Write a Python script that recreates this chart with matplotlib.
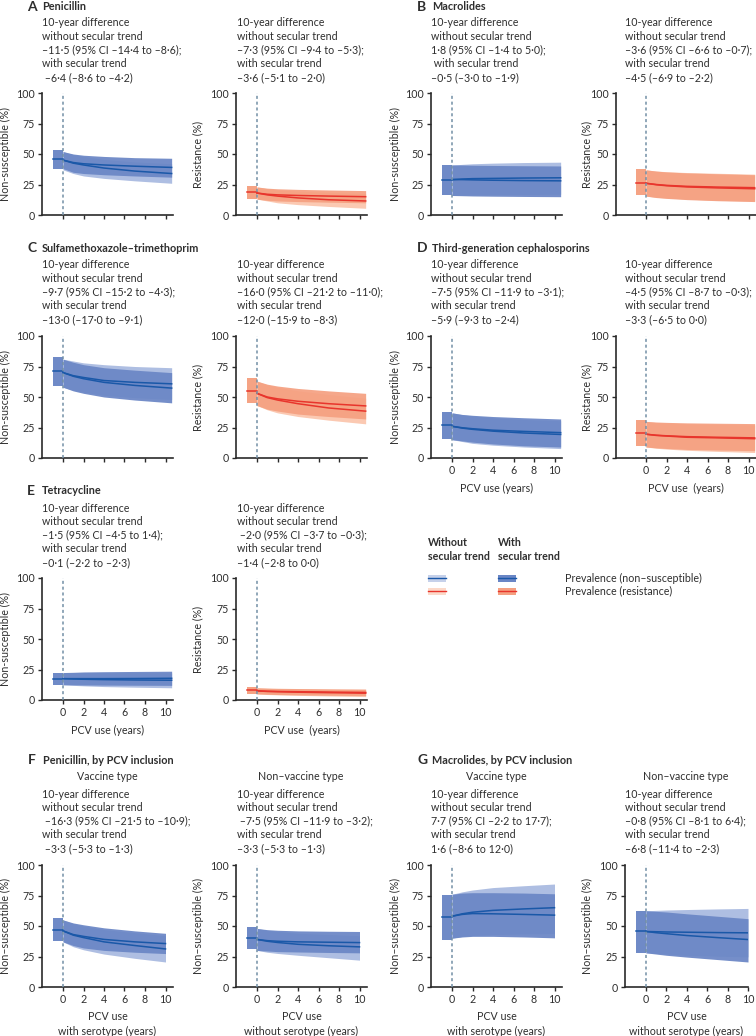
import matplotlib
matplotlib.use("Agg")
import matplotlib.pyplot as plt
from matplotlib.patches import Rectangle
from matplotlib.lines import Line2D

W, H = 756, 1036
plt.rcParams['font.family'] = ['Lato', 'DejaVu Sans']

# ── Data ─────────────────────────────────────────────────────────────────────
PRE_YEARS = [-1, 0]
YEARS     = [0, 1, 2, 4, 7, 10.6]
YEARS_FG  = [0, 1, 2, 4, 7, 10]

# pre-PCV: mid, lower, upper ; scenarios: [mid], [lower], [upper]
pen_ns_pre     = [45.5, 38.0, 53.0]
pen_ns_without = [[45, 42.5, 41, 38.5, 36, 34], [37, 34, 32, 30, 28, 26], [52, 49.5, 48, 45.5, 43.5, 42]]
pen_ns_with    = [[45, 43, 42, 41, 40, 39], [38, 35, 34, 33, 32, 31], [52, 50, 49, 48, 47, 46.5]]

pen_res_pre     = [19.0, 13.5, 24.0]
pen_res_without = [[18, 16.5, 15.5, 14, 12.5, 11.5], [13, 11.5, 10, 8.5, 7, 5.5], [23, 21.5, 20.5, 19.5, 18.5, 17.5]]
pen_res_with    = [[18, 17, 16.5, 16, 15.5, 15], [13, 12, 11.5, 11, 10.5, 10], [23, 22, 21.5, 21, 20.5, 20]]

mac_ns_pre     = [28.5, 16.0, 41.0]
mac_ns_without = [[29, 29.5, 29.8, 30, 30.3, 30.5], [16, 16.2, 16.5, 16.7, 16.9, 17], [41, 41.5, 42, 42.5, 43, 43.3]]
mac_ns_with    = [[29, 29, 28.8, 28.5, 28.2, 28], [16, 15.8, 15.6, 15.4, 15.2, 15], [41, 41, 40.8, 40.6, 40.4, 40.2]]

mac_res_pre     = [26.5, 16.0, 37.5]
mac_res_without = [[26, 25, 24.3, 23.5, 22.9, 22.4], [15.5, 14.5, 14, 13, 12, 11.5], [37, 36, 35.5, 34.8, 34.2, 33.5]]
mac_res_with    = [[26, 24.8, 24, 23, 22.2, 21.5], [15.5, 14.3, 13.6, 12.6, 11.7, 11], [37, 36, 35.3, 34.5, 33.8, 33]]

sxt_ns_pre     = [71.0, 59.0, 83.0]
sxt_ns_without = [[70, 67.5, 66, 63.5, 62, 60.8], [58, 55.5, 54, 51.5, 49.5, 48], [81, 79.5, 78, 76.5, 75, 74]]
sxt_ns_with    = [[70, 67, 65, 62, 59.5, 57.3], [58, 55, 53, 50, 47.5, 45.2], [81, 78.5, 76.5, 74, 72, 70]]

sxt_res_pre     = [55.0, 45.0, 65.5]
sxt_res_without = [[53, 49.5, 47.5, 44.5, 41, 38.4], [43, 39.5, 37, 34, 31, 28], [63, 60, 58, 55, 52, 49]]
sxt_res_with    = [[53, 50, 48.5, 46.5, 44.5, 42.7], [43, 40, 38.5, 36, 34, 32], [63, 60.5, 59, 57, 55, 53]]

ceph_ns_pre     = [27.0, 15.5, 38.0]
ceph_ns_without = [[26, 24.5, 23.5, 22, 20.5, 19.3], [15, 13.5, 12, 10.5, 9, 7.7], [37, 35.5, 34.5, 33, 31.5, 30.5]]
ceph_ns_with    = [[26, 24.8, 24, 22.8, 21.8, 20.8], [15, 14, 13, 11.5, 10, 9], [37, 35.7, 35, 34, 33, 32]]

ceph_res_pre     = [20.5, 9.5, 31.0]
ceph_res_without = [[19.5, 18.5, 18, 17, 16.5, 15.8], [9, 8, 7.3, 6.3, 5.4, 4.5], [30, 29, 28.7, 28, 27.5, 27]]
ceph_res_with    = [[19.5, 18.7, 18.2, 17.5, 17, 16.5], [9, 8.3, 7.8, 7, 6.5, 6], [30, 29.5, 29.2, 28.8, 28.5, 28.2]]

tet_ns_pre     = [17.5, 12.5, 22.0]
tet_ns_without = [[17.5, 17.2, 17, 16.7, 16.4, 16.2], [12.5, 12, 11.6, 11, 10.5, 10], [22.5, 22.5, 22.5, 22.4, 22.3, 22.2]]
tet_ns_with    = [[17.5, 17.5, 17.5, 17.5, 17.6, 17.8], [12.5, 12.4, 12.3, 12.2, 12.1, 12], [22.5, 22.7, 23, 23.2, 23.4, 23.6]]

tet_res_pre     = [8.0, 5.0, 10.5]
tet_res_without = [[7.5, 7, 6.8, 6.4, 6.0, 5.6], [5, 4.5, 4.2, 3.8, 3.3, 2.8], [10, 9.5, 9.3, 9, 8.7, 8.4]]
tet_res_with    = [[7.5, 7.2, 7, 6.8, 6.5, 6.2], [5, 4.7, 4.5, 4.2, 3.9, 3.6], [10, 9.8, 9.6, 9.4, 9.2, 9]]

pen_vt_pre     = [47.0, 38.0, 56.5]
pen_vt_without = [[46, 42.5, 40.5, 37, 34, 31.2], [37, 33, 30.5, 27, 23.5, 20.5], [55, 52, 50, 47, 44.5, 42]]
pen_vt_with    = [[46, 43, 41.5, 39, 37, 35.6], [37, 34, 32, 30, 28.5, 27.4], [55, 52.5, 51, 48.5, 46, 44]]

pen_nvt_pre     = [40.0, 31.0, 49.0]
pen_nvt_without = [[39, 37.5, 36.5, 35, 33.8, 32.9], [30, 28.5, 27.5, 26, 24, 22], [48, 46.5, 45.5, 44, 43, 42]]
pen_nvt_with    = [[39, 38, 37.5, 37, 36.7, 36.4], [30, 29.5, 29, 28.7, 28.3, 28], [48, 47, 46.5, 46, 45.7, 45.5]]

mac_vt_pre     = [57.0, 38.5, 75.5]
mac_vt_without = [[58, 60, 61.3, 62.8, 64, 65], [40, 41.5, 42.3, 43, 43.5, 43.8], [76, 78, 79.5, 81.5, 83, 84.4]]
mac_vt_with    = [[58, 59.5, 60.2, 60, 59.5, 58.9], [40, 41, 41.5, 41.5, 41, 40.3], [76, 77, 77.3, 77.3, 77, 76.4]]

mac_nvt_pre     = [45.5, 28.0, 62.5]
mac_nvt_without = [[45.5, 45.3, 45.1, 44.9, 44.6, 44.4], [28, 27.5, 27, 26, 25.3, 24.7], [62.5, 62.8, 63.1, 63.5, 64, 64.4]]
mac_nvt_with    = [[45.5, 44.5, 43.7, 42.2, 40.5, 38.9], [28, 27, 26, 24.5, 22.5, 20.5], [62.5, 62, 61.5, 60, 58, 56]]

# ── Styles ────────────────────────────────────────────────────────────────────
BLUE = dict(line='#1a58a8', light='#aebee2', dark='#6a86c5')
RED  = dict(line='#e8352c', light='#fbc9b2', dark='#f5a081')
TXT  = '#2e2e2e'
SPINE = '#2a2a2a'
UNIT = 10.25   # px per year

fig = plt.figure(figsize=(W / 100, H / 100), dpi=100)


def ftext(x, y, s, **kw):
    kw.setdefault('fontsize', 7.7)
    kw.setdefault('color', TXT)
    kw.setdefault('va', 'center')
    fig.text(x / W, 1 - y / H, s, **kw)


def panel(box, zero, pre, without, with_, years, col, ylabel, ylab_x,
          xlabels=False, xlabel=None):
    left, right, top, bottom = box
    ax = fig.add_axes([left / W, 1 - bottom / H, (right - left) / W, (bottom - top) / H])
    ax.set_xlim((left - zero) / UNIT, (right - zero) / UNIT)
    ax.set_ylim(0, 100)

    ax.fill_between(PRE_YEARS, [pre[1]] * 2, [pre[2]] * 2, color=col['light'], lw=0)
    ax.fill_between(PRE_YEARS, [pre[1]] * 2, [pre[2]] * 2, color=col['dark'], alpha=0.93, lw=0)
    ax.fill_between(years, without[1], without[2], color=col['light'], lw=0)
    ax.fill_between(years, with_[1], with_[2], color=col['dark'], alpha=0.93, lw=0)
    ax.plot(PRE_YEARS, [pre[0]] * 2, color=col['line'], lw=1.1)
    ax.plot(years, without[0], color=col['line'], lw=1.1)
    ax.plot(years, with_[0], color=col['line'], lw=1.1)
    ax.axvline(0, color='#7390a6', ls=(0, (2, 1.8)), lw=1.1, zorder=5)

    for s in ['top', 'right']:
        ax.spines[s].set_visible(False)
    for s in ['left', 'bottom']:
        ax.spines[s].set_color(SPINE)
        ax.spines[s].set_linewidth(1.2)
    ax.set_yticks([0, 25, 50, 75, 100])
    ax.set_xticks([0, 2, 4, 6, 8, 10])
    ax.tick_params(colors=SPINE, labelcolor=TXT, length=3, width=1.0,
                   labelsize=7.7, pad=2, labelbottom=xlabels)

    ftext(ylab_x, (top + bottom) / 2, ylabel, rotation=90, ha='center')
    if xlabel:
        for i, line in enumerate(xlabel.split('\n')):
            ftext((left + right) / 2, bottom + 30 + i * 14, line, ha='center')
    return ax


def header(x, y, letter, title):
    ftext(x - 15, y, letter, fontsize=10, fontweight='bold')
    ftext(x, y, title, fontsize=7.8, fontweight='bold')


def block(x, y, lines):
    for i, line in enumerate(lines):
        ftext(x, y + i * 13.6, line)


NS = 'Non-susceptible (%)'
NS2 = 'Non–susceptible (%)'
RES = 'Resistance (%)'

# Row 1
header(42, 7, 'A', 'Penicillin')
header(432, 7, 'B', 'Macrolides')
block(42, 23, ['10-year difference', 'without secular trend', '–11·5 (95% CI –14·4 to –8·6);',
               'with secular trend', ' –6·4 (–8·6 to –4·2)'])
block(237, 23, ['10-year difference', 'without secular trend', '–7·3 (95% CI –9·4 to –5·3);',
                'with secular trend', '–3·6 (–5·1 to –2·0)'])
block(431, 23, ['10-year difference', 'without secular trend', '1·8 (95% CI –1·4 to 5·0);',
                ' with secular trend', '–0·5 (–3·0 to –1·9)'])
block(625, 23, ['10-year difference', 'without secular trend', '–3·6 (95% CI –6·6 to –0·7);',
                'with secular trend', '–4·5 (–6·9 to –2·2)'])
panel((42, 173, 93, 215), 63, pen_ns_pre, pen_ns_without, pen_ns_with, YEARS, BLUE, NS, 5)
panel((236, 367, 93, 215), 257, pen_res_pre, pen_res_without, pen_res_with, YEARS, RED, RES, 198)
panel((431, 562, 93, 215), 452, mac_ns_pre, mac_ns_without, mac_ns_with, YEARS, BLUE, NS, 395)
panel((616, 756, 93, 215), 646, mac_res_pre, mac_res_without, mac_res_with, YEARS, RED, RES, 587)

# Row 2
header(42, 248, 'C', 'Sulfamethoxazole–trimethoprim')
header(432, 248, 'D', 'Third-generation cephalosporins')
block(42, 265, ['10-year difference', 'without secular trend', '–9·7 (95% CI –15·2 to –4·3);',
                'with secular trend', '–13·0 (–17·0 to –9·1)'])
block(237, 265, ['10-year difference', 'without secular trend', '–16·0 (95% CI –21·2 to –11·0);',
                 'with secular trend', '–12·0 (–15·9 to –8·3)'])
block(431, 265, ['10-year difference', 'without secular trend', '–7·5 (95% CI –11·9 to –3·1);',
                 'with secular trend', '–5·9 (–9·3 to –2·4)'])
block(625, 265, ['10-year difference', 'without secular trend', '–4·5 (95% CI –8·7 to –0·3);',
                 'with secular trend', '–3·3 (–6·5 to 0·0)'])
panel((42, 173, 336, 458), 63, sxt_ns_pre, sxt_ns_without, sxt_ns_with, YEARS, BLUE, NS, 5)
panel((236, 367, 336, 458), 257, sxt_res_pre, sxt_res_without, sxt_res_with, YEARS, RED, RES, 198)
panel((431, 562, 336, 458), 452, ceph_ns_pre, ceph_ns_without, ceph_ns_with, YEARS, BLUE, NS, 395,
      xlabels=True, xlabel='PCV use (years)')
panel((616, 756, 336, 458), 646, ceph_res_pre, ceph_res_without, ceph_res_with, YEARS, RED, RES, 587,
      xlabels=True, xlabel='PCV use  (years)')

# Row 3
header(42, 491, 'E', 'Tetracycline')
block(42, 508, ['10-year difference', 'without secular trend', '–1·5 (95% CI –4·5 to 1·4);',
                'with secular trend', '–0·1 (–2·2 to –2·3)'])
block(237, 508, ['10-year difference', 'without secular trend', ' –2·0 (95% CI –3·7 to –0·3);',
                 'with secular trend', '–1·4 (–2·8 to 0·0)'])
panel((42, 173, 578, 700), 63, tet_ns_pre, tet_ns_without, tet_ns_with, YEARS, BLUE, NS, 5,
      xlabels=True, xlabel='PCV use (years)')
panel((236, 367, 578, 700), 257, tet_res_pre, tet_res_without, tet_res_with, YEARS, RED, RES, 198,
      xlabels=True, xlabel='PCV use  (years)')

# Legend
ftext(428, 543, 'Without', fontweight='bold')
ftext(428, 557, 'secular trend', fontweight='bold')
ftext(498, 543, 'With', fontweight='bold')
ftext(498, 557, 'secular trend', fontweight='bold')
for x, shade, a in [(428, 'light', 0.7), (498, 'dark', 1.0)]:
    for y, col in [(578, BLUE), (591, RED)]:
        fig.patches.append(Rectangle((x / W, 1 - (y + 3.5) / H), 18 / W, 7 / H,
                                     transform=fig.transFigure, color=col[shade], alpha=a, lw=0))
        fig.lines.append(Line2D([x / W, (x + 18) / W], [1 - y / H] * 2,
                                transform=fig.transFigure, color=col['line'], lw=1.0))
ftext(565, 578, 'Prevalence (non–susceptible)')
ftext(565, 591, 'Prevalence (resistance)')

# Row 4
header(43, 760, 'F', 'Penicillin, by PCV inclusion')
header(432, 760, 'G', 'Macrolides, by PCV inclusion')
ftext(107, 776, 'Vaccine type', ha='center')
ftext(301, 776, 'Non–vaccine type', ha='center')
ftext(496, 776, 'Vaccine type', ha='center')
ftext(686, 776, 'Non–vaccine type', ha='center')
block(42, 794, ['10-year difference', 'without secular trend', ' –16·3 (95% CI –21·5 to –10·9);',
                'with secular trend', ' –3·3 (–5·3 to –1·3)'])
block(237, 794, ['10-year difference', 'without secular trend', ' –7·5 (95% CI –11·9 to –3·2);',
                 'with secular trend', '–3·3 (–5·3 to –1·3)'])
block(431, 794, ['10-year difference', 'without secular trend', '7·7 (95% CI –2·2 to 17·7);',
                 'with secular trend', '1·6 (–8·6 to 12·0)'])
block(625, 794, ['10-year difference', 'without secular trend', '–0·8 (95% CI –8·1 to 6·4);',
                 'with secular trend', '–6·8 (–11·4 to –2·3)'])
panel((42, 173, 865, 987), 63, pen_vt_pre, pen_vt_without, pen_vt_with, YEARS_FG, BLUE, NS2, 5,
      xlabels=True, xlabel='PCV use\nwith serotype (years)')
panel((236, 367, 865, 987), 257, pen_nvt_pre, pen_nvt_without, pen_nvt_with, YEARS_FG, BLUE, NS2, 198,
      xlabels=True, xlabel='PCV use\nwithout serotype (years)')
panel((431, 562, 865, 987), 452, mac_vt_pre, mac_vt_without, mac_vt_with, YEARS_FG, BLUE, NS2, 395,
      xlabels=True, xlabel='PCV use\nwith serotype (years)')
panel((625, 748, 865, 987), 646, mac_nvt_pre, mac_nvt_without, mac_nvt_with, YEARS_FG, BLUE, NS2, 587,
      xlabels=True, xlabel='PCV use\nwithout serotype (years)')

fig.savefig('out.png', dpi=100, facecolor='white')
